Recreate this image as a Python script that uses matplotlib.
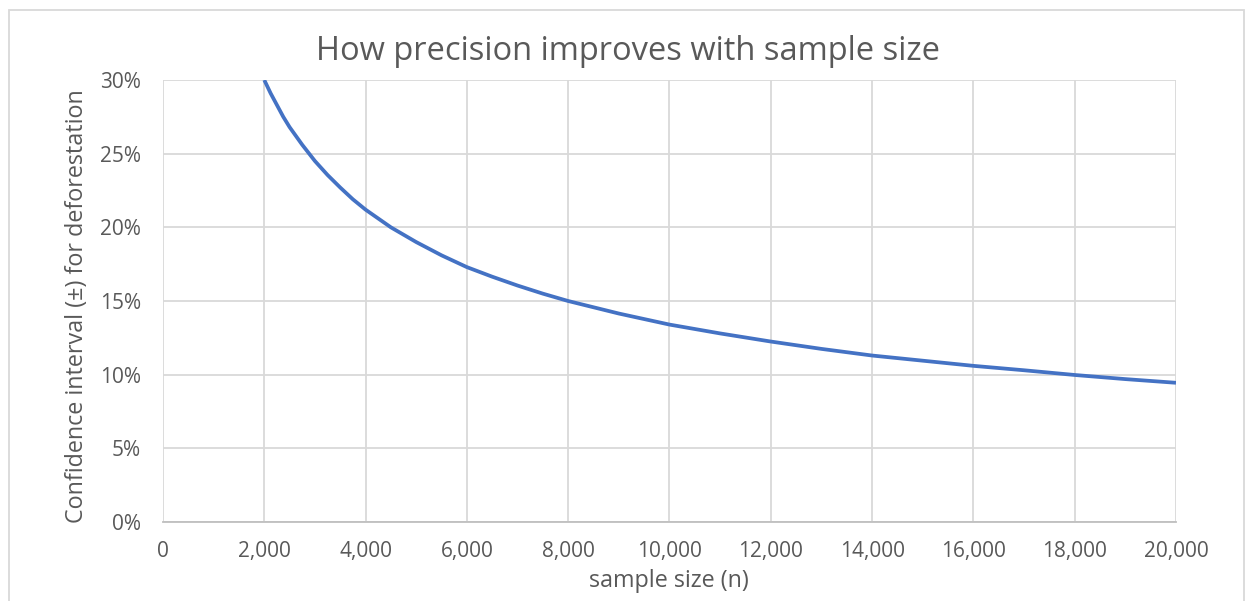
"""
Confidence interval vs sample size (line chart)
"""

import matplotlib
matplotlib.use("Agg")
import matplotlib.pyplot as plt
from matplotlib.patches import Rectangle
from matplotlib.ticker import FuncFormatter, MultipleLocator

# values
sample_size = [2000, 2125, 2250, 2375, 2500, 2750, 3000, 3250, 3500, 3750,
               4000, 4500, 5000, 5500, 6000, 6500, 7000, 7500, 8000, 9000,
               10000, 11000, 12000, 13000, 14000, 15000, 16000, 17000, 18000,
               19000, 20000]
ci_pct = [30.0, 29.1, 28.3, 27.5, 26.8, 25.6, 24.5, 23.55, 22.7, 21.9,
          21.2, 20.0, 19.0, 18.1, 17.3, 16.65, 16.05, 15.5, 15.0, 14.15,
          13.4, 12.8, 12.25, 11.75, 11.3, 10.95, 10.6, 10.3, 9.98,
          9.7, 9.45]

title = "How precision improves with sample size"
x_label = "sample size (n)"
y_label = "Confidence interval (±) for deforestation"

text_grey = "#595959"
grid_grey = "#D9D9D9"
line_blue = "#4472C4"

plt.rcParams["font.family"] = ["Open Sans", "DejaVu Sans"]

fig = plt.figure(figsize=(12.46, 6.01), dpi=100)
ax = fig.add_axes([0.1308, 0.1314, 0.813, 0.7355])

ax.plot(sample_size, ci_pct, color=line_blue, lw=2.7, solid_joinstyle="round",
        solid_capstyle="butt", zorder=3)

ax.set_xlim(0, 20000)
ax.set_ylim(0, 30)
ax.xaxis.set_major_locator(MultipleLocator(2000))
ax.yaxis.set_major_locator(MultipleLocator(5))
ax.xaxis.set_major_formatter(FuncFormatter(lambda v, p: f"{int(v):,}"))
ax.yaxis.set_major_formatter(FuncFormatter(lambda v, p: f"{int(v)}%"))

ax.grid(True, color=grid_grey, lw=1.3)
ax.set_axisbelow(True)
for s in ax.spines.values():
    s.set_visible(False)
ax.spines["bottom"].set_visible(True)
ax.spines["bottom"].set_color("#BFBFBF")
ax.spines["bottom"].set_linewidth(1.3)
ax.tick_params(length=0, labelsize=15, colors=text_grey)
ax.tick_params(axis="y", pad=16)
ax.tick_params(axis="x", pad=14)

ax.set_xlabel(x_label, fontsize=16.8, color=text_grey, va="baseline")
ax.xaxis.set_label_coords(0.4995, -0.147)
ax.set_ylabel(y_label, fontsize=16.8, color=text_grey, va="center")
ax.yaxis.set_label_coords(-0.0849, 0.4876)
fig.text(0.504, 1 - 60 / 601, title, ha="center", va="baseline",
         fontsize=23.5, color=text_grey)

# outer chart frame
fig.patches.append(Rectangle((9 / 1246, -0.05), 1235 / 1246, 1.05 - 10 / 601,
                             transform=fig.transFigure, fill=False,
                             edgecolor=grid_grey, lw=1.3))

plt.savefig("out.png", dpi=100)
